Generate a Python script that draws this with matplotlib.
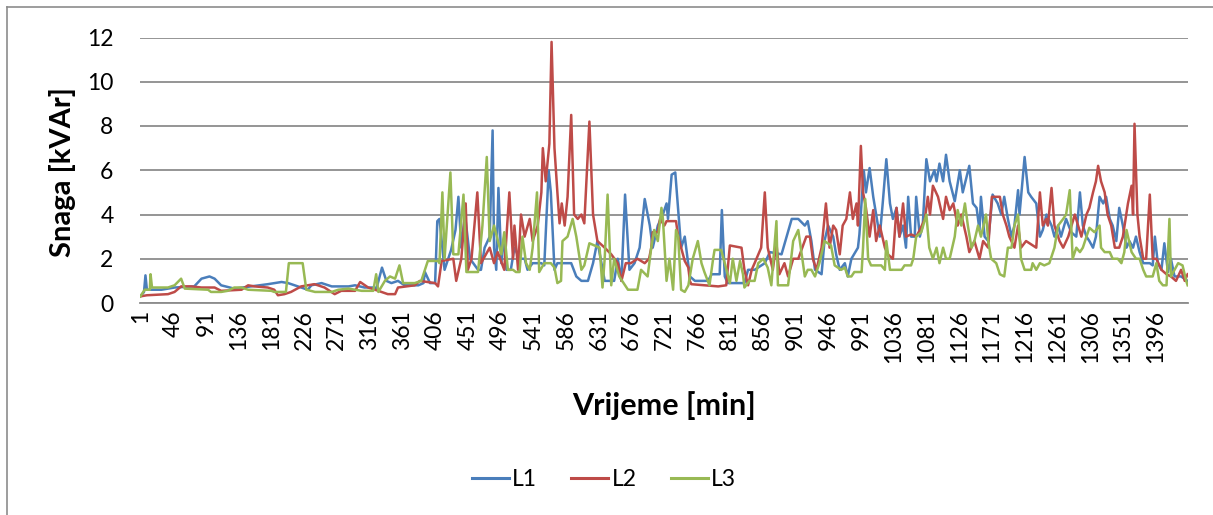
import matplotlib
matplotlib.use("Agg")
import matplotlib.pyplot as plt
from matplotlib.lines import Line2D

plt.rcParams['font.family'] = ['Lato', 'DejaVu Sans']

# ---- data (minute, kVAr) ----
l1_t = [1, 6, 8, 10, 30, 48, 75, 85, 96, 103, 112, 130, 153, 176, 195, 204, 213, 231,
        236, 250, 264, 287, 296, 309, 323, 325, 333, 339, 346, 355, 364, 383, 390, 392, 399, 406,
        409, 412, 419, 424, 428, 434, 438, 442, 447, 454, 465,
        469, 474, 481, 485, 487, 490, 493, 497, 501, 504, 510, 515, 522, 529, 533, 540, 552, 556,
        562, 565, 570, 574, 584, 593, 600, 607, 616, 623, 629, 639, 652, 657, 662, 667, 673, 680,
        687, 694, 701,
        705, 712, 719, 724, 726, 731, 736, 740, 744, 749, 756, 763, 774, 781, 786, 797, 800, 804,
        808, 831, 836, 845, 859, 866, 882, 889, 896, 905, 914, 918, 923, 928,
        937, 941, 946, 953, 957, 962, 969, 973, 978, 987, 989, 995, 998, 1003, 1008, 1012, 1017,
        1021, 1026, 1031, 1035, 1040, 1044, 1049, 1053, 1056, 1060, 1065, 1067, 1072, 1076, 1081,
        1086, 1092, 1095, 1099, 1104, 1108, 1113, 1120, 1127, 1131, 1140, 1145, 1150, 1154, 1156,
        1161, 1166, 1172, 1179, 1184, 1188, 1193, 1198, 1202, 1207, 1209, 1216, 1221, 1225, 1232,
        1237, 1241, 1246, 1253, 1257, 1262, 1266, 1273, 1280, 1287, 1292, 1296, 1301, 1305, 1310,
        1314, 1319, 1324, 1328, 1333, 1337, 1342, 1346, 1351, 1356, 1360, 1365, 1369, 1374, 1379,
        1388, 1392, 1395, 1399, 1404, 1408, 1413, 1417, 1422, 1431, 1440]
l1_v = [0.3, 0.5, 1.25, 0.6, 0.6, 0.7, 0.75, 1.1, 1.2, 1.1, 0.8, 0.65, 0.75, 0.85, 0.95, 0.9, 0.8, 0.6,
        0.8, 0.9, 0.75, 0.75, 0.8, 0.7, 0.7, 0.6, 1.6, 1.0, 0.9, 1.0, 0.8, 0.8, 0.9, 1.4, 0.9, 0.9,
        3.7, 3.8, 1.5, 2.0, 2.4, 3.3, 4.8, 2.5, 4.0, 2.0, 1.5,
        1.5, 2.5, 3.0, 7.8, 2.5, 1.5, 5.2, 1.8, 3.0, 1.5, 1.5, 2.5, 2.0, 2.0, 1.5, 1.8, 1.8, 1.7,
        6.0, 5.0, 1.5, 1.8, 1.8, 1.8, 1.2, 1.0, 1.0, 1.8, 2.8, 1.0, 1.0, 2.0, 1.0, 4.9, 1.5, 1.8,
        2.5, 4.7, 3.5,
        2.5, 3.5, 4.0, 4.5, 3.8, 5.8, 5.9, 4.2, 2.5, 3.0, 1.2, 1.0, 1.0, 1.0, 1.3, 1.3, 4.2, 1.2,
        0.9, 0.9, 1.5, 1.5, 1.8, 2.3, 2.2, 3.0, 3.8, 3.8, 3.5, 3.7, 2.8, 1.5,
        1.3, 2.8, 3.5, 3.0, 2.2, 1.5, 1.8, 1.2, 2.0, 2.5, 3.1, 6.0, 5.0, 6.1, 4.8, 4.0, 3.0,
        4.5, 6.5, 4.5, 3.8, 4.3, 3.0, 3.5, 2.5, 4.8, 3.0, 3.0, 4.8, 3.0, 3.5, 6.5,
        5.5, 6.0, 5.5, 6.3, 5.5, 6.7, 5.5, 4.6, 6.0, 5.0, 6.2, 4.5, 4.3, 3.3, 4.8,
        3.0, 2.8, 4.9, 4.5, 4.0, 4.8, 3.8, 3.0, 3.5, 5.1, 4.0, 6.6, 5.0, 4.8, 4.5,
        3.0, 3.3, 4.0, 3.5, 3.0, 3.5, 3.0, 3.8, 3.2, 3.0, 5.0, 3.5, 3.0, 2.8, 2.5,
        3.0, 4.8, 4.5, 4.8, 3.8, 3.5, 2.8, 4.3, 3.5, 2.5, 2.8, 2.5, 3.0, 2.3, 1.8,
        1.8, 1.7, 3.0, 1.8, 1.5, 2.7, 1.4, 2.0, 1.2, 1.2, 1.0]

l2_t = [1, 10, 39, 48, 57, 71, 85, 103, 112, 140, 149, 158, 176, 185, 190, 199, 208, 222, 240,
        245, 254, 268, 277, 296, 303, 314, 328, 341, 351, 355, 378, 385, 406, 410, 415, 431, 435,
        442, 448, 451, 456, 464,
        469, 481, 487, 492, 501, 508, 513, 515, 520, 524, 529, 536, 540, 547, 552, 554, 558, 563,
        566, 570, 574, 577, 580, 584, 588, 593, 597, 602, 607, 611, 618, 623, 629, 639, 648, 657,
        662, 668, 675, 684, 694, 700,
        703, 705, 712, 715, 721, 724, 737, 740, 744, 749, 754, 756, 758, 776, 795, 806, 811, 827,
        831, 836, 841, 845, 854, 859, 863, 870, 875, 879, 886, 891, 898, 905, 916, 921, 925, 930,
        937, 943, 948, 953, 957, 962, 966, 971, 976, 980, 985, 987, 991, 994, 998, 1003, 1008,
        1012, 1017, 1024, 1028, 1035, 1040, 1044, 1049, 1053, 1060, 1067, 1072, 1079, 1083, 1086,
        1090, 1097, 1104, 1108, 1113, 1118, 1124, 1129, 1136, 1140, 1147, 1154, 1159, 1166, 1168,
        1171, 1182, 1186, 1191, 1195, 1202, 1207, 1211, 1218, 1232, 1237, 1241, 1246, 1248, 1253,
        1257, 1264, 1269, 1276, 1285, 1294, 1301, 1305, 1310, 1314, 1317, 1321, 1326, 1330, 1335,
        1340, 1346, 1351, 1358, 1363, 1365, 1367, 1371, 1374, 1379, 1383, 1388, 1392, 1397, 1404,
        1411, 1417, 1424, 1431, 1436, 1440]
l2_v = [0.3, 0.35, 0.4, 0.5, 0.75, 0.75, 0.7, 0.7, 0.55, 0.6, 0.8, 0.75, 0.7, 0.6, 0.35, 0.4, 0.5, 0.75, 0.85,
        0.8, 0.7, 0.4, 0.55, 0.55, 0.95, 0.7, 0.55, 0.4, 0.4, 0.7, 0.8, 1.0, 0.9, 0.75, 1.9, 2.0, 1.0,
        2.0, 4.5, 1.5, 2.0, 5.0,
        1.8, 2.5, 1.8, 2.3, 1.5, 5.0, 2.0, 3.5, 1.5, 4.0, 3.0, 3.8, 2.8, 3.5, 5.0, 7.0, 5.5, 7.2,
        11.8, 7.0, 5.0, 3.6, 4.5, 3.5, 4.8, 8.5, 4.0, 3.8, 4.0, 3.6, 8.2, 4.0, 2.8, 2.5, 2.2, 1.8,
        1.0, 1.8, 1.8, 2.0, 1.8, 2.0,
        2.5, 3.2, 3.2, 3.8, 3.5, 3.7, 3.7, 3.0, 2.5, 1.9, 1.6, 1.0, 0.85, 0.8, 0.75, 0.8, 2.6, 2.5,
        1.5, 0.8, 1.5, 1.8, 2.5, 5.0, 2.5, 1.5, 2.7, 1.3, 1.8, 1.2, 2.0, 2.0, 3.0, 3.0, 2.0, 1.5,
        2.5, 4.5, 2.5, 3.5, 3.3, 2.2, 3.5, 3.8, 5.0, 3.8, 4.5, 3.5, 7.1, 5.0, 4.3, 3.0, 4.2,
        2.8, 3.5, 2.5, 2.2, 2.0, 4.3, 3.0, 4.5, 3.0, 3.1, 3.0, 3.3, 3.8, 4.8, 4.0,
        5.3, 4.8, 3.8, 4.8, 4.2, 4.5, 3.5, 4.0, 3.0, 2.3, 2.8, 2.0, 2.8, 2.5, 3.5,
        4.8, 4.8, 4.0, 3.5, 3.0, 2.5, 3.5, 2.5, 2.8, 2.5, 5.0, 3.5, 3.8, 3.5, 5.2,
        3.5, 2.8, 2.5, 3.0, 4.0, 3.0, 4.0, 4.3, 5.0, 5.5, 6.2, 5.5, 5.0, 4.0, 3.5,
        2.5, 2.5, 3.0, 4.5, 5.3, 4.0, 8.1, 4.0, 3.0, 2.0, 2.0, 4.9, 2.0, 2.0, 1.5,
        1.3, 1.2, 1.0, 1.5, 1.0, 1.3]

l3_t = [1, 7, 14, 15, 17, 39, 48, 57, 62, 94, 98, 112, 121, 130, 140, 149, 181, 185, 201, 205,
        224, 229, 241, 264, 273, 287, 305, 321, 325, 328, 337, 344, 351, 357, 362, 378, 387, 396,
        410, 412, 416, 419, 427, 431, 438, 445, 449, 465,
        471, 477, 481, 487, 497, 501, 506, 513, 517, 522, 526, 531, 536, 540, 546, 549, 556, 565,
        570, 574, 579, 581, 588, 595, 600, 607, 611, 618, 632, 636, 639, 643, 648, 652, 659, 671,
        684, 689, 698, 703, 707,
        712, 717, 719, 724, 728, 733, 737, 740, 744, 749, 754, 760, 767, 772, 776, 783, 788, 790,
        799, 804, 811, 815, 820, 825, 829, 831, 838, 845, 850, 857, 863, 868, 875, 877, 891, 898,
        905, 914, 918, 923, 928, 934,
        941, 950, 955, 964, 969, 973, 978, 982, 992, 994, 997, 1001, 1005, 1019, 1024, 1026, 1031,
        1047, 1051, 1060, 1063, 1067, 1074, 1081, 1085, 1090, 1095, 1099, 1104, 1108, 1113, 1120,
        1124, 1129, 1134, 1138, 1143, 1147, 1152, 1156, 1163,
        1166, 1170, 1177, 1182, 1188, 1193, 1198, 1202, 1207, 1209, 1211, 1216, 1225, 1227, 1232,
        1237, 1243, 1250, 1257, 1262, 1269, 1273, 1278, 1280, 1282, 1287, 1292, 1296, 1301, 1305,
        1312, 1319, 1321, 1326, 1333, 1337, 1344, 1349, 1353, 1356, 1363, 1369, 1374, 1379, 1383,
        1392, 1397, 1401, 1406, 1411, 1415, 1417, 1422, 1427, 1433, 1438, 1440]
l3_v = [0.3, 0.6, 0.6, 1.3, 0.7, 0.7, 0.8, 1.1, 0.65, 0.6, 0.5, 0.5, 0.55, 0.7, 0.7, 0.6, 0.55, 0.5, 0.5, 1.8,
        1.8, 0.6, 0.5, 0.5, 0.6, 0.65, 0.55, 0.55, 1.3, 0.5, 1.0, 1.2, 1.1, 1.7, 0.9, 0.9, 1.0, 1.9,
        1.9, 1.8, 5.0, 2.0, 5.9, 2.2, 2.2, 4.9, 1.4, 1.4,
        3.5, 6.6, 2.8, 3.5, 2.2, 3.2, 1.5, 1.5, 1.4, 1.4, 3.0, 1.8, 1.5, 2.5, 5.0, 1.4, 1.8, 1.8,
        1.6, 0.9, 1.0, 2.8, 3.0, 3.8, 3.0, 1.5, 1.7, 2.7, 2.5, 0.7, 2.0, 4.9, 0.8, 2.0, 1.2, 0.6,
        0.6, 1.5, 1.2, 2.5, 3.3,
        2.8, 4.3, 3.8, 1.0, 2.0, 0.6, 3.3, 3.0, 0.6, 0.5, 0.8, 2.0, 2.8, 1.8, 1.4, 0.8, 2.0, 2.4,
        2.4, 1.8, 0.9, 2.0, 1.0, 1.9, 1.3, 0.7, 1.0, 1.0, 1.8, 2.0, 1.6, 0.8, 3.7, 0.8, 0.8, 2.8,
        3.3, 1.2, 1.5, 1.5, 1.2, 1.8,
        2.8, 2.6, 1.7, 1.5, 1.6, 1.2, 1.2, 1.4, 1.4, 2.5, 4.7, 2.0, 1.7, 1.7, 1.5, 2.8, 1.5,
        1.5, 1.7, 1.7, 2.0, 3.0, 3.2, 4.0, 2.5, 2.0, 2.5, 1.8, 2.5, 2.0, 2.0, 3.0,
        4.2, 3.5, 4.5, 3.5, 2.5, 2.8, 3.5, 3.0, 4.0,
        2.8, 2.0, 1.8, 1.3, 1.2, 2.5, 2.5, 3.5, 4.0, 3.0, 2.0, 1.5, 1.5, 1.8, 1.5,
        1.8, 1.7, 1.8, 2.5, 3.5, 3.8, 4.0, 5.1, 3.5, 2.0, 2.5, 2.3, 2.5, 3.0, 3.4,
        3.2, 3.5, 2.5, 2.3, 2.3, 2.0, 2.0, 1.8, 2.3, 3.3, 2.3, 2.0, 2.0, 1.5, 1.2,
        1.2, 1.8, 1.0, 0.8, 0.8, 3.8, 1.2, 1.5, 1.8, 1.7, 1.0, 0.8]

series_names = ["L1", "L2", "L3"]
series_colors = ["#4A7EBB", "#BE4B48", "#98B954"]
x_tick_labels = list(range(1, 1441, 45))
y_ticks = [0, 2, 4, 6, 8, 10, 12]

W, H = 1213, 515
fig = plt.figure(figsize=(W / 100, H / 100), dpi=100)
ax = fig.add_axes([140 / W, 1 - 303 / H, (1188 - 140) / W, (303 - 37.5) / H])

for t, v, name, c in zip([l1_t, l2_t, l3_t], [l1_v, l2_v, l3_v], series_names, series_colors):
    ax.plot(t, v, color=c, lw=1.8, label=name, solid_joinstyle='round')

ax.set_xlim(0.5, 1440.5)
ax.set_ylim(0, 12)
ax.set_yticks(y_ticks)
ax.set_xticks(x_tick_labels)
ax.set_xticklabels([str(v) for v in x_tick_labels], rotation=90)
ax.tick_params(axis='both', length=0, labelsize=16.5, colors='black')
ax.tick_params(axis='x', pad=5)
ax.tick_params(axis='y', pad=19)
ax.grid(axis='y', color='#8C8C8C', lw=1.3)
ax.set_axisbelow(True)
for s in ['top', 'right', 'left']:
    ax.spines[s].set_visible(False)
ax.spines['bottom'].set_color('#8C8C8C')
ax.spines['bottom'].set_linewidth(1.3)

fig.text(62 / W, 1 - 172 / H, "Snaga [kVAr]", rotation=90, ha='center', va='center',
         fontsize=21, fontweight='bold')
fig.text(664 / W, 1 - 406 / H, "Vrijeme [min]", ha='center', va='center',
         fontsize=22, fontweight='bold')

handles = [Line2D([0], [0], color=c, lw=2.2) for c in series_colors]
fig.legend(handles, series_names, loc='center', bbox_to_anchor=(604 / W, 1 - 480 / H),
           ncol=3, frameon=False, fontsize=16.5, handlelength=1.6, columnspacing=1.5,
           handletextpad=0.15)

# outer chart frame (left and top edges visible in the reference)
fig.add_artist(Line2D([7 / W, 7 / W], [1 - 7 / H, 0], transform=fig.transFigure, color='#8C8C8C', lw=1.2))
fig.add_artist(Line2D([7 / W, 1], [1 - 7 / H, 1 - 7 / H], transform=fig.transFigure, color='#8C8C8C', lw=1.2))

fig.savefig("out.png", dpi=100)
